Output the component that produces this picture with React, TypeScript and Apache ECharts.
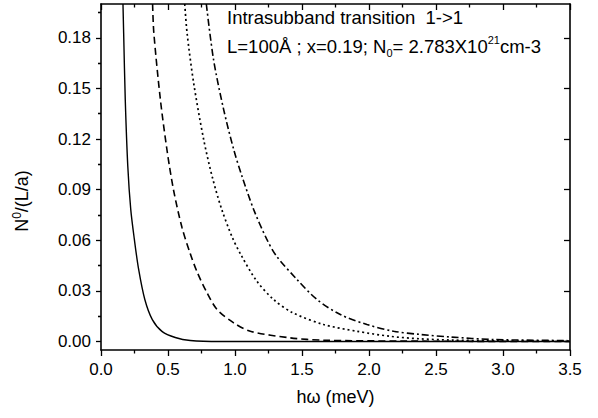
import React, { useEffect, useRef } from "react";
import * as echarts from "echarts";

// hω (meV) vs N0/(L/a)
const curveSolid: number[][] = [
  [0.164, 0.2], [0.169, 0.183], [0.181, 0.1435], [0.2, 0.1038], [0.222, 0.0783],
  [0.249, 0.0605], [0.281, 0.0427], [0.327, 0.0249], [0.383, 0.013], [0.457, 0.0059],
  [0.554, 0.0024], [0.666, 0.0006], [0.89, 0], [3.5, 0],
];
const curveDashed: number[][] = [
  [0.385, 0.2], [0.394, 0.1832], [0.443, 0.1435], [0.493, 0.1132], [0.542, 0.0895],
  [0.604, 0.0677], [0.666, 0.0521], [0.719, 0.0409], [0.791, 0.0289], [0.866, 0.019],
  [0.99, 0.0111], [1.114, 0.0061], [1.413, 0.0022], [1.661, 0.0008], [2.234, 0.0003],
  [3.5, 0],
];
const curveDotted: number[][] = [
  [0.625, 0.2], [0.642, 0.183], [0.691, 0.1534], [0.766, 0.1198], [0.831, 0.0973],
  [0.901, 0.0783], [0.98, 0.0617], [1.043, 0.0516], [1.159, 0.0362], [1.288, 0.0249],
  [1.428, 0.0172], [1.661, 0.0101], [1.91, 0.0061], [2.159, 0.0031], [2.383, 0.0016],
  [2.607, 0.0009], [2.98, 0.0004], [3.5, 0.0002],
];
const curveDashDot: number[][] = [
  [0.786, 0.2], [0.84, 0.167], [0.915, 0.1376], [0.99, 0.1139], [1.052, 0.098],
  [1.139, 0.0783], [1.236, 0.0608], [1.31, 0.0506], [1.46, 0.037], [1.612, 0.0249],
  [1.786, 0.016], [1.985, 0.0101], [2.184, 0.0061], [2.383, 0.0042], [2.607, 0.0027],
  [2.928, 0.0012], [3.48, 0.0006],
];

const yMajor = [0, 0.03, 0.06, 0.09, 0.12, 0.15, 0.18];
const yMinor = [0.015, 0.045, 0.075, 0.105, 0.135, 0.165, 0.195];
const xLabel = "hω (meV)";
const annotLine1 = "Intrasubband transition  1->1";

const FONT = "Liberation Sans, Arial, Helvetica, sans-serif";

export default function App() {
  const ref = useRef<HTMLDivElement>(null);
  useEffect(() => {
    const chart = echarts.init(ref.current!, null, { renderer: "svg" });
    const axisLineStyle = { color: "#000", width: 1.6 };
    const tickStyle = { color: "#000", width: 1.3 };
    const yBase = {
      type: "value",
      min: -0.005,
      max: 0.2,
      splitLine: { show: false },
    };
    const lineBase = {
      type: "line",
      showSymbol: false,
      symbol: "none",
      smooth: 0.3,
      clip: true,
      xAxisIndex: 0,
      yAxisIndex: 0,
    };
    chart.setOption({
      animation: false,
      backgroundColor: "#fff",
      grid: { left: 101, right: 28, top: 4, bottom: 68 },
      xAxis: [
        {
          type: "value",
          min: 0,
          max: 3.5,
          interval: 0.5,
          position: "bottom",
          axisLine: { show: true, onZero: false, lineStyle: axisLineStyle },
          axisTick: { show: true, inside: false, length: 6, lineStyle: tickStyle },
          minorTick: { show: true, splitNumber: 2, length: 3.5, lineStyle: tickStyle },
          splitLine: { show: false },
          minorSplitLine: { show: false },
          axisLabel: {
            formatter: (v: number) => v.toFixed(1),
            color: "#000",
            fontSize: 17,
            fontFamily: FONT,
            margin: 11,
          },
          name: xLabel,
          nameLocation: "middle",
          nameGap: 38,
          nameTextStyle: { color: "#000", fontSize: 18, fontFamily: FONT },
        },
        {
          type: "value",
          min: 0,
          max: 3.5,
          interval: 0.5,
          position: "top",
          axisLine: { show: true, onZero: false, lineStyle: axisLineStyle },
          axisTick: { show: true, inside: true, length: 6, lineStyle: tickStyle },
          minorTick: { show: true, splitNumber: 2, length: 3.5, lineStyle: tickStyle },
          splitLine: { show: false },
          axisLabel: { show: false },
        },
      ],
      yAxis: [
        {
          ...yBase,
          position: "left",
          axisLine: { show: true, onZero: false, lineStyle: axisLineStyle },
          axisTick: { show: true, inside: false, length: 5, customValues: yMajor, lineStyle: tickStyle },
          axisLabel: {
            customValues: yMajor,
            formatter: (v: number) => v.toFixed(2),
            color: "#000",
            fontSize: 17,
            fontFamily: FONT,
            margin: 10,
          },
        },
        {
          ...yBase,
          position: "left",
          axisLine: { show: false },
          axisTick: { show: true, inside: false, length: 3, customValues: yMinor, lineStyle: tickStyle },
          axisLabel: { show: false },
        },
        {
          ...yBase,
          position: "right",
          axisLine: { show: true, onZero: false, lineStyle: axisLineStyle },
          axisTick: { show: true, inside: true, length: 6, customValues: yMajor, lineStyle: tickStyle },
          axisLabel: { show: false },
        },
        {
          ...yBase,
          position: "right",
          axisLine: { show: false },
          axisTick: { show: true, inside: true, length: 3, customValues: yMinor, lineStyle: tickStyle },
          axisLabel: { show: false },
        },
      ],
      series: [
        { ...lineBase, name: "solid", data: curveSolid, lineStyle: { color: "#000", width: 1.4, type: "solid" } },
        { ...lineBase, name: "dashed", data: curveDashed, lineStyle: { color: "#000", width: 1.6, type: [7, 4] } },
        { ...lineBase, name: "dotted", data: curveDotted, lineStyle: { color: "#000", width: 1.7, type: [2, 3] } },
        { ...lineBase, name: "dashdot", data: curveDashDot, lineStyle: { color: "#000", width: 1.6, type: [7, 3, 2, 3] } },
      ],
      graphic: [
        {
          type: "text",
          left: 227,
          top: 8,
          style: { text: annotLine1, fill: "#000", font: `18.5px ${FONT}` },
        },
        {
          type: "text",
          left: 227,
          top: 34,
          style: {
            text: "{n|L=100Å ; x=0.19; N}{sub|0}{n|= 2.783X10}{sup|21}{n|cm-3}",
            fill: "#000",
            rich: {
              n: { fontSize: 18.5, fontFamily: FONT, fill: "#000", lineHeight: 24 },
              sub: { fontSize: 11, fontFamily: FONT, fill: "#000", verticalAlign: "bottom", lineHeight: 24 },
              sup: { fontSize: 11, fontFamily: FONT, fill: "#000", verticalAlign: "top", lineHeight: 24 },
            },
          },
        },
        {
          type: "text",
          x: 22,
          y: 201,
          rotation: Math.PI / 2,
          style: {
            text: "{n|N}{sup|0}{n|/(L/a)}",
            align: "center",
            verticalAlign: "middle",
            fill: "#000",
            rich: {
              n: { fontSize: 18, fontFamily: FONT, fill: "#000", lineHeight: 22 },
              sup: { fontSize: 12, fontFamily: FONT, fill: "#000", verticalAlign: "top", lineHeight: 22 },
            },
          },
        },
      ],
    });
    return () => chart.dispose();
  }, []);
  return (
    <div
      ref={ref}
      style={{ position: "fixed", left: 0, top: 0, width: 598, height: 418, background: "#fff" }}
    />
  );
}
